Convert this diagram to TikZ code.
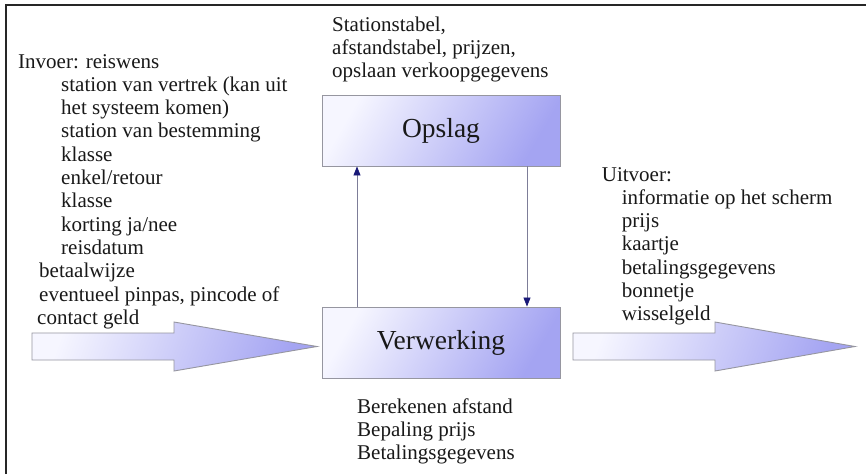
\documentclass[tikz,border=0pt]{standalone}
\usepackage{fontspec}
\setmainfont{Liberation Serif}
\usetikzlibrary{arrows.meta}
\definecolor{shlight}{RGB}{246,246,255}
\definecolor{shdark}{RGB}{164,164,242}
\definecolor{edgegray}{RGB}{150,150,160}
\definecolor{navyhead}{RGB}{25,25,120}
\definecolor{txt}{RGB}{25,25,25}
\tikzset{
  procbox/.style={draw=edgegray, line width=0.9pt, left color=shlight, right color=shdark, shading angle=60,
    minimum width=238pt, minimum height=71pt, inner sep=0pt, font={\fontsize{27.5}{30}\selectfont}, text=txt},
  bigarrow/.style={draw=edgegray, line width=0.9pt, left color=shlight, right color=shdark, shading angle=70},
  label/.style={anchor=base west, inner sep=0pt, align=left, font={\fontsize{21}{23.3}\selectfont}, text=txt},
  flow/.style={draw=edgegray!80!navyhead, line width=0.8pt, -{Triangle[length=9pt,width=7pt,color=navyhead]}},
  frame/.style={draw=black!85, line width=1.4pt}
}
\begin{document}
\begin{tikzpicture}[x=1pt,y=-1pt]
\useasboundingbox (0,0) rectangle (866,474);
\fill[white] (0,0) rectangle (866,474);
% frame
\coordinate (fbl) at (6,474);
\coordinate (ftl) at (6,5);
\coordinate (ftr) at (866,5);
\draw[frame] (fbl) -- (ftl) -- (ftr);
% boxes
\node[procbox] (opslag) at (441,130.5) {Opslag};
\node[procbox] (verwerking) at (441,342.5) {Verwerking};
% connectors
\draw[flow] (verwerking.north -| 357,0) -- (opslag.south -| 357,0);
\draw[flow] (opslag.south -| 527,0) -- (verwerking.north -| 527,0);
% big arrows
\draw[bigarrow] (32,333) -- (174,333) -- (174,322) -- (317,346.5) -- (174,371) -- (174,360) -- (32,360) -- cycle;
\draw[bigarrow] (573,333) -- (715,333) -- (715,322) -- (855,346.5) -- (715,371) -- (715,360) -- (573,360) -- cycle;
% texts (base anchor = baseline of last line)
\node[label] (opslagtxt) at (332,77.6) {Stationstabel,\\afstandstabel, prijzen,\\opslaan verkoopgegevens};
\node[label] (invoer) at (18,324.3) {Invoer: reiswens\\
\hspace*{43pt}station van vertrek (kan uit\\
\hspace*{43pt}het systeem komen)\\
\hspace*{43pt}station van bestemming\\
\hspace*{43pt}klasse\\
\hspace*{43pt}enkel/retour\\
\hspace*{43pt}klasse\\
\hspace*{43pt}korting ja/nee\\
\hspace*{43pt}reisdatum\\
\hspace*{21pt}betaalwijze\\
\hspace*{21pt}eventueel pinpas, pincode of\\
\hspace*{19pt}contact geld};
\node[label] (uitvoer) at (601.7,320.8) {Uitvoer:\\
\hspace*{20pt}informatie op het scherm\\
\hspace*{20pt}prijs\\
\hspace*{20pt}kaartje\\
\hspace*{20pt}betalingsgegevens\\
\hspace*{20pt}bonnetje\\
\hspace*{20pt}wisselgeld};
\node[label] (verwtxt) at (357,459.6) {Berekenen afstand\\Bepaling prijs\\Betalingsgegevens};
\end{tikzpicture}
\end{document}
